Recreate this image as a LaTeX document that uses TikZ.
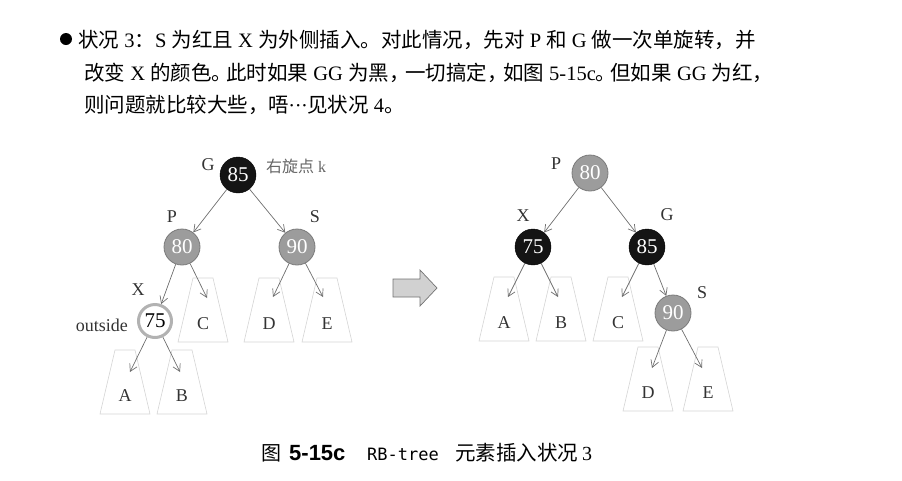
\documentclass[tikz,border=0pt]{standalone}
\usepackage{fontspec}
\setmainfont{Liberation Serif}
\newfontfamily\cjk{Noto Sans CJK SC}
\newfontfamily\capsans{Liberation Sans}
\newfontfamily\capmono{DejaVu Sans Mono}
\newcommand\zh[1]{{\cjk #1}}
% compressed CJK punctuation
\newcommand\hzh[2]{\makebox[#1][l]{\cjk #2}}
\usetikzlibrary{arrows.meta}

\definecolor{edgegray}{HTML}{6E6E6E}
\definecolor{redgray}{HTML}{9C9C9C}
\definecolor{redrim}{HTML}{7A7A7A}
\definecolor{treegray}{HTML}{D4D4D4}

\tikzset{
  body/.style={inner sep=0pt, font=\fontsize{20.5}{25}\selectfont},
  rbnode/.style={circle, minimum size=36pt, inner sep=0pt, font=\fontsize{21}{22}\selectfont},
  blacknode/.style={rbnode, fill=black!92, draw=black, text=white},
  rednode/.style={rbnode, fill=redgray, draw=redrim, line width=0.8pt, text=white},
  newnode/.style={rbnode, fill=white, draw=black!30, line width=3pt, minimum size=33pt, text=black},
  tag/.style={inner sep=0pt, font=\fontsize{18}{20}\selectfont, text=black!80},
  leaf/.style={inner sep=0pt, font=\fontsize{18}{20}\selectfont, text=black!80},
  link/.style={draw=edgegray, line width=0.7pt, -{Straight Barb[length=7pt,width=8pt]}},
  treeline/.style={draw=treegray, line width=0.6pt},
  captext/.style={inner sep=0pt, anchor=base west},
  pics/subtree/.style={code={
    \draw[treeline] (-10,0) -- (10,0) -- (25,64) -- (-25,64) -- cycle;
    \node[leaf] (-lbl) at (0,46) {#1};
  }}
}

\begin{document}
\begin{tikzpicture}[x=1pt, y=-1pt]
\useasboundingbox (0,0) rectangle (902,480);

% ---- explanatory paragraph ----
\fill (66,39) circle (6pt);
\node[body, anchor=base west] (line1) at (78,47)
  {\zh{状况} 3\zh{：}S \zh{为红且} X \zh{为外侧插入。对此情况，先对} P \zh{和} G \zh{做一次单旋转，并}};
\node[body, anchor=base west] (line2) at (84,80)
  {\zh{改变} X \zh{的颜色}\hzh{14.5pt}{。}\zh{此时如果} GG \zh{为黑}\hzh{16pt}{，}\zh{一切搞定}\hzh{16pt}{，}\zh{如图} 5-15c\hzh{14.5pt}{。}\zh{但如果} GG \zh{为红，}};
\node[body, anchor=base west] (line3) at (84,112)
  {\zh{则问题就比较大些，唔}\makebox[18pt]{·\kern-0.5pt·\kern-0.5pt·}\zh{见状况} 4\zh{。}};

% ---- before the rotation ----
\node[blacknode] (G) at (238,175) {85};
\node[rednode]   (P) at (182,247) {80};
\node[rednode]   (S) at (297,247) {90};
\node[newnode]   (X) at (155,321) {75};

\node[tag] (Gname) at (208,165) {G};
\node[tag, anchor=west, text=black!60, font=\fontsize{16}{18}\selectfont] (pivot) at (266,166) {\zh{右旋点} k};
\node[tag] (Pname) at (172,217) {P};
\node[tag] (Sname) at (315,217) {S};
\node[tag] (Xname) at (138,290) {X};
\node[tag, anchor=east] (outside) at (128,325) {outside};

\pic (lC) at (203,278) {subtree=C};
\pic (lD) at (269,278) {subtree=D};
\pic (lE) at (327,278) {subtree=E};
\pic (lA) at (125,350) {subtree=A};
\pic (lB) at (182,350) {subtree=B};

\coordinate (lCtip) at (207,298);
\coordinate (lDtip) at (273,297);
\coordinate (lEtip) at (323,297);
\coordinate (lAtip) at (130,372);
\coordinate (lBtip) at (180,372);

\draw[link] (G) -- (P);
\draw[link] (G) -- (S);
\draw[link] (P) -- (X);
\draw[link] (P) -- (lCtip);
\draw[link] (S) -- (lDtip);
\draw[link] (S) -- (lEtip);
\draw[link] (X) -- (lAtip);
\draw[link] (X) -- (lBtip);

% ---- transition arrow ----
\draw[draw=black!55, fill=black!18, line width=0.7pt]
  (393,279) -- (420,279) -- (420,270) -- (437,288) -- (420,306) -- (420,297) -- (393,297) -- cycle;

% ---- after the rotation ----
\node[rednode]   (P2) at (590,173) {80};
\node[blacknode] (X2) at (533,247) {75};
\node[blacknode] (G2) at (647,247) {85};
\node[rednode]   (S2) at (673,313) {90};

\node[tag] (P2name) at (556,164) {P};
\node[tag] (X2name) at (523,216) {X};
\node[tag] (G2name) at (667,215) {G};
\node[tag] (S2name) at (702,293) {S};

\pic (rA) at (504,277) {subtree=A};
\pic (rB) at (561,277) {subtree=B};
\pic (rC) at (618,277) {subtree=C};
\pic (rD) at (648,347) {subtree=D};
\pic (rE) at (708,347) {subtree=E};

\coordinate (rAtip) at (508,297);
\coordinate (rBtip) at (558,297);
\coordinate (rCtip) at (622,297);
\coordinate (rDtip) at (652,368);
\coordinate (rEtip) at (702,368);

\draw[link] (P2) -- (X2);
\draw[link] (P2) -- (G2);
\draw[link] (X2) -- (rAtip);
\draw[link] (X2) -- (rBtip);
\draw[link] (G2) -- (rCtip);
\draw[link] (G2) -- (S2);
\draw[link] (S2) -- (rDtip);
\draw[link] (S2) -- (rEtip);

% ---- caption ----
\node[captext, font=\cjk\fontsize{20}{24}\selectfont] (capfig) at (261,460) {图};
\node[captext, font=\capsans\bfseries\fontsize{22}{24}\selectfont] (capnum) at (289,460) {5-15c};
\node[captext, font=\capmono\fontsize{17}{20}\selectfont] (capmono) at (367,460) {RB-tree};
\node[captext, font=\cjk\fontsize{20.5}{24}\selectfont] (capzh) at (455,460) {元素插入状况};
\node[captext, font=\fontsize{20}{24}\selectfont] (capthree) at (582,460) {3};
\end{tikzpicture}
\end{document}
